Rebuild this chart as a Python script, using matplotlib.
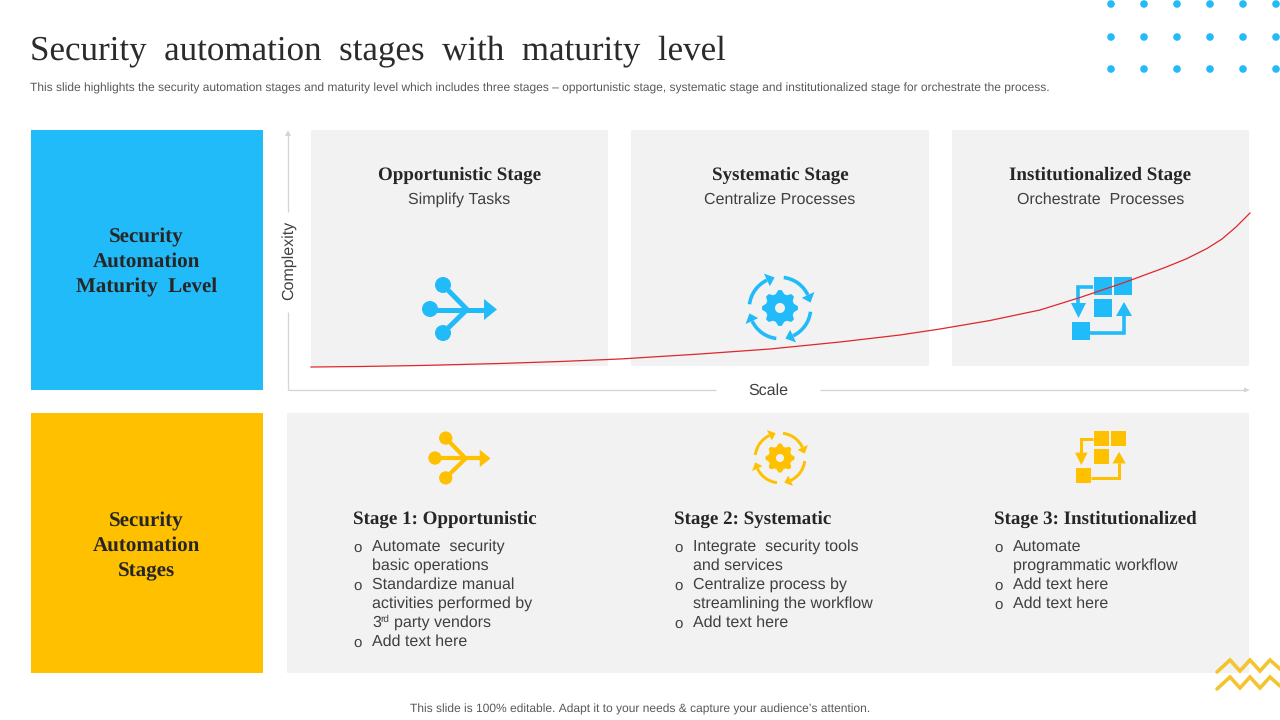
import numpy as np
import matplotlib
matplotlib.use("Agg")
import matplotlib.pyplot as plt
from matplotlib.patches import Rectangle, Circle, Polygon, Wedge

plt.rcParams["text.hinting"] = "no_hinting"
plt.rcParams["text.hinting_factor"] = 1

BLUE = "#22BBF9"
YELLOW = "#FFC000"
GREY = "#F2F2F2"
SERIF = "Liberation Serif"
SANS = "Liberation Sans"

title = "Security  automation  stages  with  maturity  level"
subtitle = ("This slide highlights the security automation stages and maturity level which includes three stages \u2013 "
            "opportunistic stage, systematic stage and institutionalized stage for orchestrate the process.")
footer = "This slide is 100% editable. Adapt it to your needs & capture your audience\u2019s attention."
side_labels = [["Security", "Automation", "Maturity  Level"], ["Security", "Automation", "Stages"]]
stage_names = ["Opportunistic Stage", "Systematic Stage", "Institutionalized Stage"]
stage_subs = ["Simplify Tasks", "Centralize Processes", "Orchestrate  Processes"]
stage_heads = ["Stage 1: Opportunistic", "Stage 2: Systematic", "Stage 3: Institutionalized"]
stage_lines = [
    [("o", "Automate  security"), ("", "basic operations"), ("o", "Standardize manual"),
     ("", "activities performed by"), ("", "3|rd|party vendors"), ("o", "Add text here")],
    [("o", "Integrate  security tools"), ("", "and services"), ("o", "Centralize process by"),
     ("", "streamlining the workflow"), ("o", "Add text here")],
    [("o", "Automate"), ("", "programmatic workflow"), ("o", "Add text here"), ("o", "Add text here")],
]
curve_scale = [311, 360, 420, 500, 560, 620, 700, 770, 840, 900, 940, 990, 1040, 1080, 1123, 1165, 1186, 1207, 1222, 1236, 1250]
curve_complexity = [367, 366.5, 365.5, 363.5, 361.5, 359, 354, 349, 342, 335, 329, 320.5, 310, 297.5, 283, 267.5, 259, 248.5, 239, 227, 213]

fig = plt.figure(figsize=(12.8, 7.2), dpi=100)
ax = fig.add_axes([0, 0, 1, 1])
ax.set_xlim(0, 1280)
ax.set_ylim(720, 0)
ax.axis("off")


def rect(x0, y0, x1, y1, c, z=1):
    ax.add_patch(Rectangle((x0, y0), x1 - x0, y1 - y0, fc=c, ec="none", zorder=z))


def txt(x, y, s, size, c="#404040", fam=SANS, w="normal", ha="center", **k):
    ax.text(x, y, s, fontsize=size, color=c, family=fam, weight=w, ha=ha, va="center", zorder=6, **k)


def seg(xs, ys, c, lw, cap="butt", z=3):
    ax.plot(xs, ys, color=c, lw=lw, solid_capstyle=cap, solid_joinstyle="miter", zorder=z)


def poly(pts, c, z=4):
    ax.add_patch(Polygon(pts, closed=True, fc=c, ec="none", zorder=z))


def share_icon(cx, cy, s, c):
    lw = 5 * s * 0.72
    seg([cx - 28 * s, cx + 28 * s], [cy + 0.5 * s, cy + 0.5 * s], c, lw)
    seg([cx - 16 * s, cx + 8 * s], [cy - 24 * s, cy + 0.5 * s], c, lw)
    seg([cx - 16 * s, cx + 8 * s], [cy + 24 * s, cy + 0.5 * s], c, lw)
    for dx, dy, r in [(-29, 0, 8), (-16, -24, 8), (-16, 24, 8)]:
        ax.add_patch(Circle((cx + dx * s, cy + dy * s), r * s, fc=c, ec="none", zorder=4))
    poly([(cx + 25 * s, cy - 10 * s), (cx + 38 * s, cy + 0.5 * s), (cx + 25 * s, cy + 11 * s)], c)


def gear_icon(cx, cy, s, c, bg):
    n = 8
    angs = np.linspace(0, 2 * np.pi, n * 4, endpoint=False)
    rad = np.tile([18, 18, 14.5, 14.5], n) * s
    off = -np.pi / (4 * n)
    pts = [(cx + r * np.cos(a + off), cy + r * np.sin(a + off)) for r, a in zip(rad, angs)]
    poly(pts, c)
    ax.add_patch(Circle((cx, cy), 5 * s, fc=bg, ec="none", zorder=5))
    for a0 in [-75, 15, 105, 195]:
        a1 = a0 + 50
        ax.add_patch(Wedge((cx, cy), 32.5 * s, a0 - 8, a1, width=3.6 * s, fc=c, ec="none", zorder=4))
        t = np.deg2rad(a1 + 15)
        b = np.deg2rad(a1)
        r0, r1 = 24 * s, 38 * s
        poly([(cx + r0 * np.cos(b), cy + r0 * np.sin(b)),
              (cx + r1 * np.cos(b), cy + r1 * np.sin(b)),
              (cx + 31 * s * np.cos(t), cy + 31 * s * np.sin(t))], c)


def flow_icon(cx, cy, s, c):
    for dx, dy in [(1.5, -21.5), (22, -21.5), (1.5, 0.5), (-20, 24)]:
        rect(cx + (dx - 9) * s, cy + (dy - 9) * s, cx + (dx + 9) * s, cy + (dy + 9) * s, c, 4)
    lw = 3.6 * s * 0.72
    seg([cx - 8 * s, cx - 23 * s, cx - 23 * s], [cy - 20 * s, cy - 20 * s, cy - 3 * s], c, lw)
    poly([(cx - 30 * s, cy - 4 * s), (cx - 15 * s, cy - 4 * s), (cx - 22.5 * s, cy + 11 * s)], c)
    seg([cx - 11 * s, cx + 23 * s, cx + 23 * s], [cy + 26 * s, cy + 26 * s, cy + 8 * s], c, lw)
    poly([(cx + 15 * s, cy + 9 * s), (cx + 31 * s, cy + 9 * s), (cx + 23 * s, cy - 5 * s)], c)


# title block
txt(30, 51.5, title, 24.9, c="#2B2B2B", fam=SERIF, ha="left")
txt(30, 88, subtitle, 8.67, c="#595959", ha="left")
txt(640, 709, footer, 8.7, c="#595959")

# dots
for x in [1111, 1144, 1177, 1210, 1243, 1276]:
    for y in [4, 37, 69]:
        ax.add_patch(Circle((x, y), 3.8, fc=BLUE, ec="none", zorder=2))

# side boxes
rect(31, 130, 263, 390, BLUE)
rect(31, 413, 263, 673, YELLOW)
for lines, ys in zip(side_labels, [(237, 261.5, 287.5), (521, 545.5, 571.5)]):
    for s, y in zip(lines, ys):
        txt(146.5, y, s, 15.1, c="#262626", fam=SERIF, w="bold")

# panels
panels = [(311, 608), (631, 929), (952, 1249)]
for x0, x1 in panels:
    rect(x0, 130, x1, 366, GREY)
rect(287, 413, 1249, 673, GREY)

# axes
AX = "#D4D4D4"
seg([288, 288], [134, 212], AX, 0.9)
seg([288, 288], [312, 390], AX, 0.9)
seg([288, 716], [390, 390], AX, 0.9)
seg([820, 1246], [390, 390], AX, 0.9)
poly([(285, 136), (291, 136), (288, 130)], AX)
poly([(1244, 387.5), (1244, 392.5), (1250, 390)], AX)
txt(289, 260, "Complexity", 11.3, rotation=90)
txt(768, 391, "Scale", 11.2)

# top stage text and icons
for (x0, x1), h, sub in zip(panels, stage_names, stage_subs):
    xc = (x0 + x1) / 2
    txt(xc, 175.5, h, 13.4, c="#262626", fam=SERIF, w="bold")
    txt(xc, 200, sub, 11.2)

share_icon(459, 309, 1.0, BLUE)
gear_icon(780, 308, 1.0, BLUE, GREY)
flow_icon(1101, 307, 1.0, BLUE)
share_icon(459, 458, 0.83, YELLOW)
gear_icon(780, 458, 0.81, YELLOW, GREY)
flow_icon(1100, 456, 0.83, YELLOW)

# curve
ax.plot(curve_scale, curve_complexity, color="#E0262B", lw=0.9, zorder=5)

# lower stage lists
col_x = [353, 674, 994]
for x, h, lines in zip(col_x, stage_heads, stage_lines):
    txt(x, 519.5, h, 13.4, c="#262626", fam=SERIF, w="bold", ha="left")
    y = 546.5
    for mark, s in lines:
        if mark:
            txt(x + 5, y + 1, mark, 10.5, ha="center")
        if "|" in s:
            a, b, c = s.split("|")
            txt(x + 19, y, a, 11.3, ha="left")
            txt(x + 27, y - 4, b, 7.5, ha="left")
            txt(x + 41, y, c, 11.3, ha="left")
        else:
            txt(x + 19, y, s, 11.3, ha="left")
        y += 19.1

# zigzag
zig_x = [1217, 1230, 1240, 1250, 1260, 1270, 1280]
zig_y = [672, 660, 671, 660, 671, 660, 669]
for dy in (0, 17):
    ax.plot(zig_x, [v + dy for v in zig_y], color="#F4C430", lw=2.6, solid_capstyle="round",
            solid_joinstyle="miter", zorder=7)

fig.savefig("out.png", dpi=100)
